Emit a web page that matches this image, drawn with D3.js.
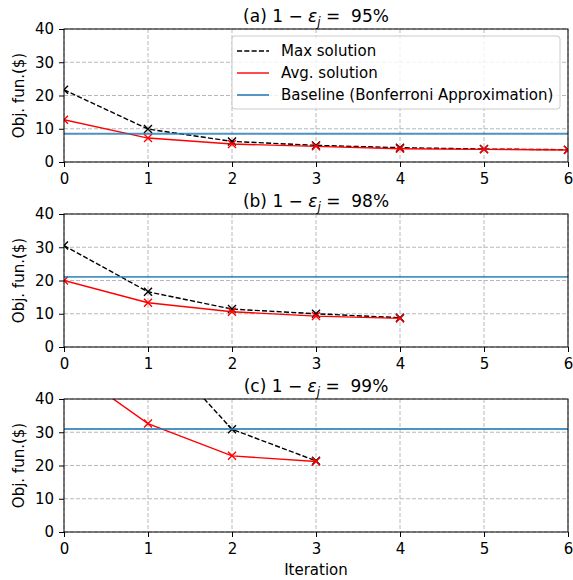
<!DOCTYPE html>
<html>
<head>
<meta charset="utf-8">
<script src="https://cdn.jsdelivr.net/npm/d3@7"></script>
<style>
  body { margin: 0; background: #fff; }
  svg text { font-family: "DejaVu Sans", sans-serif; fill: #000; }
</style>
</head>
<body>
<svg id="fig" width="573" height="580"></svg>
<script>
// values
const iterations = [0, 1, 2, 3, 4, 5, 6];
const xTicks = [0, 1, 2, 3, 4, 5, 6];
const yTicks = [0, 10, 20, 30, 40];
const panelTitles = ["(a)", "(b)", "(c)"];
const confidence = ["95%", "98%", "99%"];

const maxA = [21.7, 9.9, 6.2, 5.0, 4.3, 3.9, 3.7];
const avgA = [12.7, 7.2, 5.4, 4.7, 4.0, 3.8, 3.6];
const maxB = [30.5, 16.6, 11.4, 10.0, 8.8];
const avgB = [20.0, 13.3, 10.6, 9.3, 8.6];
const maxC = [70.0, 58.5, 30.9, 21.4];
const avgC = [50.5, 32.6, 22.9, 21.2];
const baselines = [8.5, 21.1, 31.0];

const legendLabels = ["Max solution", "Avg. solution", "Baseline (Bonferroni Approximation)"];

const panels = [
    { max: maxA, avg: avgA },
    { max: maxB, avg: avgB },
    { max: maxC, avg: avgC }
];

const left = 64, right = 568, plotH = 133;
const tops = [29, 214, 399];
const blue = "#1f77b4", red = "#ff0000";
const fs = 15;

const svg = d3.select("#fig");

const x = d3.scaleLinear().domain([0, 6]).range([left, right]);

function xMarker(g, pts, color) {
    const s = 4;
    g.selectAll(null)
        .data(pts)
        .join("path")
        .attr("d", d => `M${d[0] - s},${d[1] - s}L${d[0] + s},${d[1] + s}M${d[0] - s},${d[1] + s}L${d[0] + s},${d[1] - s}`)
        .attr("stroke", color)
        .attr("stroke-width", 1.4)
        .attr("fill", "none");
}

panels.forEach((p, i) => {
    const top = tops[i];
    const y = d3.scaleLinear().domain([0, 40]).range([top + plotH, top]);
    const G = svg.append("g");

    // clip
    svg.append("clipPath").attr("id", "clip" + i)
        .append("rect")
        .attr("x", left).attr("y", top)
        .attr("width", right - left).attr("height", plotH);

    // grid
    G.append("g").selectAll("line")
        .data(xTicks)
        .join("line")
        .attr("x1", d => x(d)).attr("x2", d => x(d))
        .attr("y1", top).attr("y2", top + plotH)
        .attr("stroke", "#b0b0b0").attr("stroke-width", 0.9)
        .attr("stroke-dasharray", "4,2");
    G.append("g").selectAll("line")
        .data(yTicks)
        .join("line")
        .attr("x1", left).attr("x2", right)
        .attr("y1", d => y(d)).attr("y2", d => y(d))
        .attr("stroke", "#b0b0b0").attr("stroke-width", 0.9)
        .attr("stroke-dasharray", "4,2");

    const plot = G.append("g").attr("clip-path", `url(#clip${i})`);
    const line = d3.line().x((d, k) => x(iterations[k])).y(d => y(d));

    // max solution
    plot.append("path")
        .datum(p.max)
        .attr("d", line)
        .attr("fill", "none")
        .attr("stroke", "#000")
        .attr("stroke-width", 1.4)
        .attr("stroke-dasharray", "5.1,2.2");
    xMarker(plot, p.max.map((d, k) => [x(iterations[k]), y(d)]), "#000");

    // avg solution
    plot.append("path")
        .datum(p.avg)
        .attr("d", line)
        .attr("fill", "none")
        .attr("stroke", red)
        .attr("stroke-width", 1.4);
    xMarker(plot, p.avg.map((d, k) => [x(iterations[k]), y(d)]), red);

    // baseline
    plot.append("line")
        .attr("x1", left).attr("x2", right)
        .attr("y1", y(baselines[i])).attr("y2", y(baselines[i]))
        .attr("stroke", blue).attr("stroke-width", 1.9)
        .attr("stroke-opacity", 0.8);

    // axes
    const xAxis = G.append("g")
        .attr("transform", `translate(0,${top + plotH})`)
        .call(d3.axisBottom(x).tickValues(xTicks).tickFormat(d3.format("d")).tickSizeOuter(0).tickSize(5));
    const yAxis = G.append("g")
        .attr("transform", `translate(${left},0)`)
        .call(d3.axisLeft(y).tickValues(yTicks).tickSizeOuter(0).tickSize(5).tickPadding(5));
    [xAxis, yAxis].forEach(a => {
        a.select(".domain").remove();
        a.selectAll("text").attr("font-size", fs).attr("font-family", "DejaVu Sans").attr("fill", "#000");
        a.selectAll("line").attr("stroke", "#000");
    });
    xAxis.selectAll("text").attr("dy", "0.95em");

    // frame
    G.append("rect")
        .attr("x", left).attr("y", top)
        .attr("width", right - left).attr("height", plotH)
        .attr("fill", "none").attr("stroke", "#000").attr("stroke-width", 1);

    // y label
    G.append("text")
        .attr("transform", `translate(24,${top + plotH / 2}) rotate(-90)`)
        .attr("text-anchor", "middle")
        .attr("font-size", fs)
        .text("Obj. fun.($)");

    // title
    const t = G.append("text")
        .attr("x", (left + right) / 2)
        .attr("y", top - 7)
        .attr("text-anchor", "middle")
        .attr("font-size", 17);
    t.append("tspan").text(panelTitles[i] + " 1 \u2212 ");
    t.append("tspan").attr("font-style", "italic").text("\u03b5");
    t.append("tspan").attr("font-style", "italic").attr("font-size", 12).attr("dy", 4).text("j");
    t.append("tspan").attr("dy", -4).text(" =\u00a0 " + confidence[i]);
});

// x label
svg.append("text")
    .attr("x", (left + right) / 2)
    .attr("y", 575)
    .attr("text-anchor", "middle")
    .attr("font-size", fs)
    .text("Iteration");

// legend
const lg = svg.append("g").attr("transform", "translate(232,36)");
lg.append("rect")
    .attr("width", 328).attr("height", 73)
    .attr("rx", 3)
    .attr("fill", "#fff").attr("fill-opacity", 0.8)
    .attr("stroke", "#cccccc");
const legendStyles = [
    { color: "#000", dash: "5.1,2.2", w: 1.4 },
    { color: red, dash: null, w: 1.4 },
    { color: blue, dash: null, w: 1.9 }
];
const items = lg.selectAll(".legend-item")
    .data(legendLabels)
    .join("g")
    .attr("class", "legend-item")
    .attr("transform", (d, k) => `translate(0,${15 + k * 22})`);
items.append("line")
    .attr("x1", 5).attr("x2", 37)
    .attr("stroke", (d, k) => legendStyles[k].color)
    .attr("stroke-width", (d, k) => legendStyles[k].w)
    .attr("stroke-opacity", (d, k) => k === 2 ? 0.8 : 1)
    .attr("stroke-dasharray", (d, k) => legendStyles[k].dash);
items.append("text")
    .attr("x", 49)
    .attr("dy", "0.35em")
    .attr("font-size", fs)
    .text(d => d);
</script>
</body>
</html>
